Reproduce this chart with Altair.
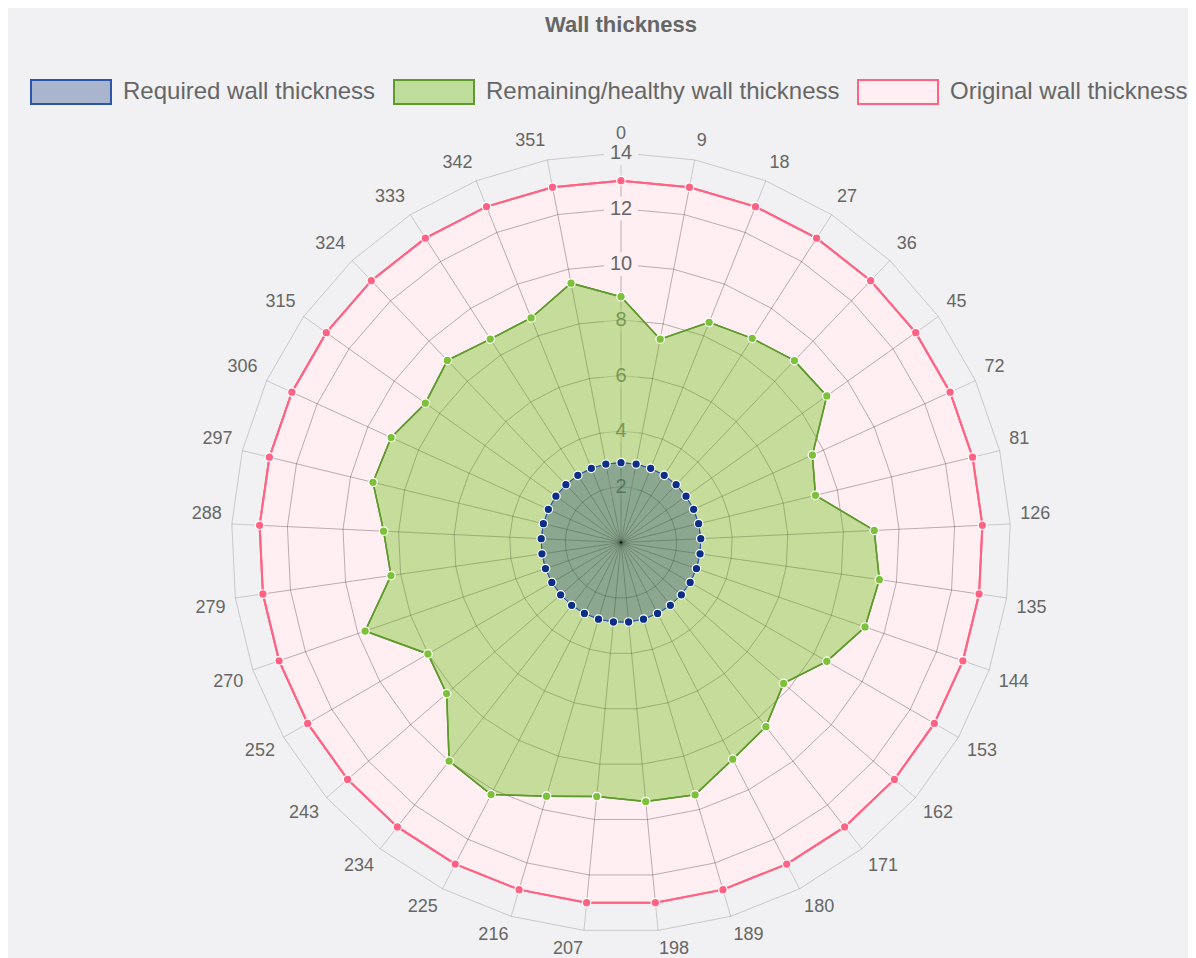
import altair as alt
import pandas as pd

# ---------------- data ----------------
categories = ["0", "9", "18", "27", "36", "45", "72", "81", "126", "135", "144",
              "153", "162", "171", "180", "189", "198", "207", "216", "225", "234",
              "243", "252", "270", "279", "288", "297", "306", "315", "324", "333",
              "342", "351"]

required = [2.87, 2.87, 2.87, 2.87, 2.87, 2.87, 2.87, 2.87, 2.87, 2.87, 2.87,
            2.87, 2.87, 2.87, 2.87, 2.87, 2.87, 2.87, 2.87, 2.87, 2.87, 2.87,
            2.87, 2.87, 2.87, 2.87, 2.87, 2.87, 2.87, 2.87, 2.87, 2.87, 2.87]

remaining = [8.83, 7.44, 8.52, 8.72, 9.03, 9.08, 7.56, 7.19, 9.11, 9.38, 9.28,
             8.54, 7.73, 8.42, 8.76, 9.45, 9.35, 9.17, 9.50, 10.19, 9.99, 8.29,
             8.01, 9.73, 8.35, 8.54, 9.17, 9.08, 8.63, 9.04, 8.69, 8.69, 9.49]

original = [13, 13, 13, 13, 13, 13, 13, 13, 13, 13, 13,
            13, 13, 13, 13, 13, 13, 13, 13, 13, 13, 13,
            13, 13, 13, 13, 13, 13, 13, 13, 13, 13, 13]

tick_values = [2, 4, 6, 8, 10, 12, 14]

series_names = ["Required wall thickness",
                "Remaining/healthy wall thickness",
                "Original wall thickness"]

# ---------------- styles ----------------
fill_colors = ["rgba(20,55,120,0.32)", "rgba(139,202,66,0.5)", "rgb(255,238,242)"]
stroke_colors = ["#2c55ad", "#5e9a2c", "#ff6384"]
point_colors = ["#0b2f86", "#7dc13a", "#ff6384"]
FONT = "Liberation Sans"
TXT = "#666666"
BG = "#f1f1f3"
PINK = "rgb(255,238,242)"

n = len(categories)
r_max = tick_values[-1]
px_per_unit = 27.83
half = 410
D = half / px_per_unit
r_label = r_max + 10 / px_per_unit

# ---------------- tables built from the arrays ----------------
rows = []
for name, vals in zip(series_names, [required, remaining, original]):
    for i in range(n + 1):
        rows.append({"series": name, "idx": i, "value": vals[i % n]})
series_df = pd.DataFrame(rows)

grid_df = pd.DataFrame([{"tick": t, "idx": i} for t in tick_values for i in range(n + 1)])
spoke_df = pd.DataFrame({"idx": list(range(n)), "label": categories, "outer": original})
tick_df = pd.DataFrame({"tick": tick_values, "text": [str(t) for t in tick_values]})

angle = f"datum.idx * 2 * PI / {n}"
xs = alt.Scale(domain=[-D, D], nice=False, zero=False)
ys = alt.Scale(domain=[-D, D], nice=False, zero=False)
X = alt.X("px:Q", scale=xs, axis=None)
Y = alt.Y("py:Q", scale=ys, axis=None)

legend_def = alt.Legend(
    title=None, orient="none", legendX=-181, legendY=-81.5, direction="horizontal",
    symbolType="M-1,-0.3L1,-0.3L1,0.3L-1,0.3Z", symbolSize=6400,
    symbolStrokeWidth=2, symbolOpacity=1, labelFontSize=24, labelFont=FONT,
    labelColor=TXT, labelOffset=11, columnPadding=14, labelLimit=0, padding=0,
)
fill_enc = alt.Fill("series:N", scale=alt.Scale(domain=series_names, range=fill_colors),
                    legend=legend_def, sort=series_names)
stroke_enc = alt.Stroke("series:N", scale=alt.Scale(domain=series_names, range=stroke_colors),
                        legend=legend_def, sort=series_names)


def series_base(k):
    return (alt.Chart(series_df)
            .transform_filter(alt.datum.series == series_names[k])
            .transform_calculate(a=angle)
            .transform_calculate(px="datum.value * sin(datum.a)",
                                 py="datum.value * cos(datum.a)"))


def poly(k, sw):
    return series_base(k).mark_line(strokeWidth=sw, strokeJoin="miter").encode(
        x=X, y=Y, order="idx:Q", fill=fill_enc, stroke=stroke_enc)


def line(k, sw):
    return series_base(k).mark_line(stroke=stroke_colors[k], strokeWidth=sw).encode(
        x=X, y=Y, order="idx:Q")


def points(k):
    return series_base(k).transform_filter(f"datum.idx < {n}").mark_point(
        filled=True, fill=point_colors[k], stroke="white", strokeWidth=1.2,
        size=72, opacity=1).encode(x=X, y=Y)


def rings(max_tick, color):
    return (alt.Chart(grid_df)
            .transform_filter(f"datum.tick <= {max_tick}")
            .transform_calculate(a=angle)
            .transform_calculate(px="datum.tick * sin(datum.a)", py="datum.tick * cos(datum.a)")
            .mark_line(stroke=color, strokeWidth=1)
            .encode(x=X, y=Y, order="idx:Q", detail="tick:Q"))


def spokes(length_expr, color):
    return (alt.Chart(spoke_df)
            .transform_calculate(a=angle)
            .transform_calculate(px0="0", py0="0",
                                 px=f"({length_expr}) * sin(datum.a)",
                                 py=f"({length_expr}) * cos(datum.a)")
            .mark_rule(stroke=color, strokeWidth=1)
            .encode(x=alt.X("px0:Q", scale=xs, axis=None),
                    y=alt.Y("py0:Q", scale=ys, axis=None),
                    x2="px:Q", y2="py:Q"))


def tick_layers(cond):
    base = alt.Chart(tick_df).transform_filter(cond).transform_calculate(px="0", py="datum.tick")
    back = base.mark_point(
        shape="M-1,-0.7L1,-0.7L1,0.7L-1,0.7Z", size=34 * 34, filled=True,
        strokeWidth=0, opacity=1).encode(
        x=X, y=Y,
        fill=alt.condition(f"datum.tick < {original[0]}", alt.value(PINK), alt.value(BG)))
    txt = base.mark_text(
        font=FONT, fontSize=20, color=TXT, align="center", baseline="middle").encode(
        x=X, y=Y, text="text:N")
    return [back, txt]


label_base = (alt.Chart(spoke_df)
              .transform_calculate(a=angle)
              .transform_calculate(px=f"{r_label} * sin(datum.a)",
                                   py=f"{r_label} * cos(datum.a)",
                                   s="sin(datum.a)", c="cos(datum.a)"))
groups = [
    ("abs(datum.s) < 1e-6 && datum.c > 0", "center", "bottom"),
    ("abs(datum.s) < 1e-6 && datum.c < 0", "center", "top"),
    ("datum.s >= 1e-6 && datum.c >= 0", "left", "bottom"),
    ("datum.s >= 1e-6 && datum.c < 0", "left", "top"),
    ("datum.s <= -1e-6 && datum.c < 0", "right", "top"),
    ("datum.s <= -1e-6 && datum.c >= 0", "right", "bottom"),
]
label_layers = [
    label_base.transform_filter(cond).mark_text(
        font=FONT, fontSize=18, color=TXT, align=al, baseline=bl).encode(
        x=X, y=Y, text="label:N")
    for cond, al, bl in groups
]

layers = ([poly(2, 2), rings(r_max, "rgba(0,0,0,0.17)"), spokes(str(r_max), "rgba(0,0,0,0.17)")]
          + tick_layers("datum.tick < 10")
          + [poly(1, 1.5), poly(0, 1),
             rings(12, "rgba(0,0,0,0.12)"), spokes("datum.outer", "rgba(0,0,0,0.12)")]
          + tick_layers("datum.tick >= 10")
          + [line(2, 2), points(2), line(1, 1.5), points(1), line(0, 1), points(0)]
          + label_layers)

chart = alt.layer(*layers).properties(
    width=2 * half, height=2 * half,
    padding={"left": 203, "top": 124.5, "right": 157, "bottom": 5},
    autosize=alt.AutoSizeParams(type="none"),
    title=alt.TitleParams("Wall thickness", font=FONT, fontSize=22, fontWeight="bold",
                          color=TXT, anchor="middle", offset=14),
).configure(background=BG).configure_view(stroke=None)

chart.save("out.html", embed_options={"renderer": "svg", "actions": False})
